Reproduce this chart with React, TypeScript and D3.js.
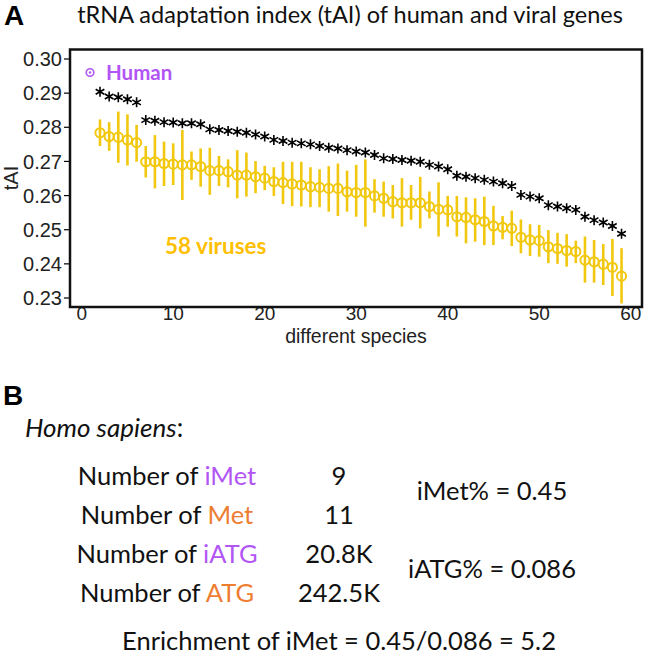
import React from "react";
import * as d3 from "d3";

const species = [2,3,4,5,6,7,8,9,10,11,12,13,14,15,16,17,18,19,20,21,22,23,24,25,26,27,28,29,30,31,32,33,34,35,36,37,38,39,40,41,42,43,44,45,46,47,48,49,50,51,52,53,54,55,56,57,58,59];

const humanTAI = [0.2904,0.2890,0.2888,0.2882,0.2873,0.2821,0.2819,0.2815,0.2814,0.2812,0.2812,0.2809,0.2794,0.2792,0.2789,0.2787,0.2784,0.2779,0.2773,0.2763,0.2760,0.2755,0.2753,0.2750,0.2745,0.2740,0.2738,0.2733,0.2729,0.2726,0.2719,0.2709,0.2707,0.2704,0.2702,0.2699,0.2690,0.2685,0.2677,0.2658,0.2655,0.2651,0.2646,0.2641,0.2636,0.2628,0.2602,0.2597,0.2592,0.2572,0.2568,0.2563,0.2558,0.2538,0.2528,0.2521,0.2511,0.2488];

const virusMean = [0.2784,0.2773,0.2771,0.2763,0.2755,0.2699,0.2699,0.2694,0.2692,0.2690,0.2690,0.2685,0.2673,0.2673,0.2670,0.2660,0.2660,0.2655,0.2651,0.2641,0.2638,0.2634,0.2631,0.2626,0.2624,0.2621,0.2621,0.2611,0.2609,0.2609,0.2599,0.2592,0.2582,0.2579,0.2579,0.2579,0.2568,0.2560,0.2558,0.2538,0.2536,0.2529,0.2524,0.2511,0.2507,0.2504,0.2478,0.2470,0.2468,0.2450,0.2445,0.2439,0.2436,0.2411,0.2406,0.2399,0.2390,0.2364];

const virusUpper = [0.2823,0.2815,0.2846,0.2838,0.2807,0.2745,0.2777,0.2758,0.2753,0.2792,0.2729,0.2738,0.2740,0.2716,0.2706,0.2733,0.2726,0.2701,0.2687,0.2683,0.2699,0.2699,0.2699,0.2683,0.2677,0.2686,0.2694,0.2673,0.2690,0.2706,0.2648,0.2641,0.2631,0.2651,0.2631,0.2655,0.2612,0.2639,0.2599,0.2599,0.2595,0.2592,0.2597,0.2570,0.2540,0.2556,0.2530,0.2516,0.2514,0.2499,0.2491,0.2487,0.2468,0.2480,0.2470,0.2458,0.2473,0.2446];

const virusLower = [0.2745,0.2731,0.2696,0.2688,0.2699,0.2653,0.2621,0.2628,0.2631,0.2587,0.2646,0.2626,0.2602,0.2628,0.2624,0.2592,0.2597,0.2607,0.2616,0.2599,0.2575,0.2569,0.2568,0.2566,0.2566,0.2553,0.2540,0.2553,0.2538,0.2509,0.2550,0.2538,0.2533,0.2509,0.2529,0.2504,0.2533,0.2480,0.2509,0.2480,0.2460,0.2465,0.2455,0.2455,0.2472,0.2452,0.2431,0.2423,0.2421,0.2402,0.2400,0.2392,0.2402,0.2345,0.2345,0.2338,0.2306,0.2284];

const yTicks = [0.23,0.24,0.25,0.26,0.27,0.28,0.29,0.30];
const xTicks = [0,10,20,30,40,50,60];

const tableLabels = ["iMet","Met","iATG","ATG"];
const tableValues = ["9","11","20.8K","242.5K"];
const tableColors = ["#B155F5","#EE7D31","#B155F5","#EE7D31"];
const ratioTexts = ["iMet% = 0.45","iATG% = 0.086"];
const enrichmentText = "Enrichment of iMet = 0.45/0.086 = 5.2";

const PURPLE = "#B155F5";
const GOLD = "#F2C80F";
const GOLD_TEXT = "#FFC000";

export default function App() {
  const left = 70, right = 642, top = 49.5, bottom = 307;
  const x = d3.scaleLinear().domain([0, 60]).range([81.7, 630.7]);
  const y = d3.scaleLinear().domain([0.23, 0.30]).range([298, 59]);
  const axisFont = "'Liberation Sans', Arial, sans-serif";
  const textFont = "Lato, 'Open Sans', sans-serif";

  const star = (cx: number, cy: number) => {
    const r = 5;
    const parts: string[] = [];
    for (let k = 0; k < 3; k++) {
      const a = Math.PI / 2 + (k * Math.PI) / 3;
      parts.push(`M${cx + r * Math.cos(a)},${cy + r * Math.sin(a)}L${cx - r * Math.cos(a)},${cy - r * Math.sin(a)}`);
    }
    return parts.join("");
  };

  const rowY = [476, 515, 554, 593];
  const bFont = 25.5;

  return (
    <svg width={645} height={658} style={{ position: "absolute", left: 0, top: 0, background: "#fff" }}>
      <rect x={0} y={0} width={645} height={658} fill="#fff" />
      {/* Panel A */}
      <text x={4} y={25} fontFamily={axisFont} fontWeight="bold" fontSize={28}>A</text>
      <text x={350} y={23} textAnchor="middle" fontFamily={textFont} fontSize={23.5} fill="#111">
        tRNA adaptation index (tAI) of human and viral genes
      </text>

      {/* y axis */}
      {yTicks.map((t) => (
        <g key={t}>
          <line x1={64} x2={left} y1={y(t)} y2={y(t)} stroke="#000" strokeWidth={1.2} />
          <text x={62} y={y(t)} dy="0.36em" textAnchor="end" fontFamily={axisFont} fontSize={20} fill="#222">
            {t.toFixed(2)}
          </text>
        </g>
      ))}
      <text transform={`translate(18,178) rotate(-90)`} textAnchor="middle" fontFamily={axisFont} fontSize={20} fill="#222">tAI</text>

      {/* x axis labels */}
      {xTicks.map((t) => (
        <text key={t} x={x(t)} y={320} textAnchor="middle" fontFamily={axisFont} fontSize={19} fill="#222">{t}</text>
      ))}
      <text x={356} y={343} textAnchor="middle" fontFamily={axisFont} fontSize={19.5} fill="#222">different species</text>

      {/* error bars */}
      {species.map((s, i) => (
        <line key={"e" + s} x1={x(s)} x2={x(s)} y1={y(virusUpper[i])} y2={y(virusLower[i])} stroke={GOLD} strokeWidth={2.6} />
      ))}
      {species.map((s, i) => (
        <circle key={"c" + s} cx={x(s)} cy={y(virusMean[i])} r={4.6} fill="none" stroke={GOLD} strokeWidth={2} />
      ))}
      {/* human stars */}
      <path d={species.map((s, i) => star(x(s), y(humanTAI[i]))).join("")} stroke="#000" strokeWidth={1.6} fill="none" />

      {/* legend texts */}
      <circle cx={90} cy={72.5} r={3.8} fill="none" stroke={PURPLE} strokeWidth={1.6} />
      <circle cx={90} cy={72.5} r={1.2} fill={PURPLE} />
      <text x={106} y={72.5} dy="0.35em" fontFamily={textFont} fontWeight="bold" fontSize={20.5} fill={PURPLE}>Human</text>
      <text x={165} y={246} dy="0.35em" fontFamily={textFont} fontWeight="bold" fontSize={22.5} fill={GOLD_TEXT}>58 viruses</text>

      {/* frame */}
      <rect x={left} y={top} width={right - left} height={bottom - top} fill="none" stroke="#111" strokeWidth={2.5} />

      {/* Panel B */}
      <text x={3} y={405} fontFamily={axisFont} fontWeight="bold" fontSize={28}>B</text>
      <text x={25} y={437} fontFamily={textFont} fontSize={26} fill="#111">
        <tspan fontStyle="italic">Homo sapiens</tspan>:
      </text>
      {tableLabels.map((lab, i) => (
        <g key={lab}>
          <text x={167} y={rowY[i]} dy="0.35em" textAnchor="middle" fontFamily={textFont} fontSize={bFont} fill="#111">
            Number of <tspan fill={tableColors[i]}>{lab}</tspan>
          </text>
          <text x={339} y={rowY[i]} dy="0.35em" textAnchor="middle" fontFamily={textFont} fontSize={bFont} fill="#111">{tableValues[i]}</text>
        </g>
      ))}
      <text x={492} y={491} dy="0.35em" textAnchor="middle" fontFamily={textFont} fontSize={bFont} fill="#111">{ratioTexts[0]}</text>
      <text x={492} y={569} dy="0.35em" textAnchor="middle" fontFamily={textFont} fontSize={bFont} fill="#111">{ratioTexts[1]}</text>
      <text x={339} y={641} dy="0.35em" textAnchor="middle" fontFamily={textFont} fontSize={bFont} fill="#111">{enrichmentText}</text>
    </svg>
  );
}
